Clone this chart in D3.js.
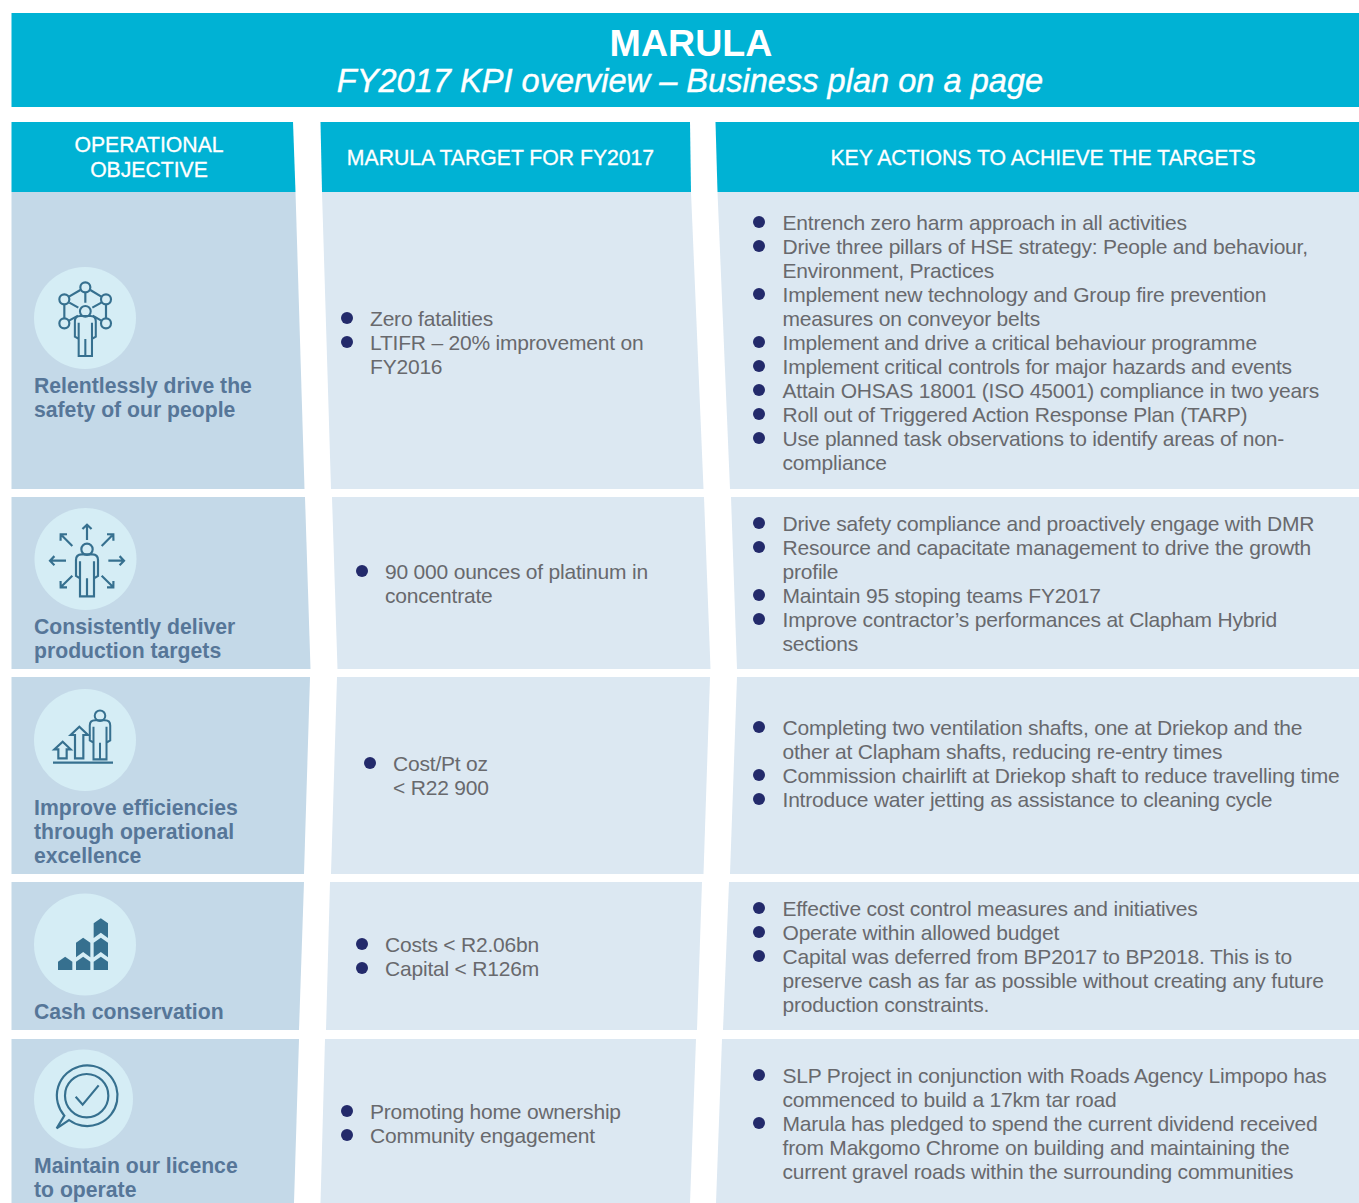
<!doctype html>
<html>
<head>
<meta charset="utf-8">
<style>
  html, body { margin: 0; padding: 0; background: #fff; }
  svg { display: block; }
  text { font-family: "Liberation Sans", Arial, sans-serif; }
  .body { font-size: 21px; letter-spacing: -0.2px; fill: #68696d; }
  .objective { font-weight: 700; font-size: 21.2px; fill: #567698; }
  .head { font-size: 21.2px; fill: #fff; stroke: #fff; stroke-width: 0.3; text-anchor: middle; }
  .stroke { fill: none; stroke: #36708f; stroke-width: 6.5; }
</style>
<script src="https://d3js.org/d3.v7.min.js"></script>
</head>
<body>
<svg width="1359" height="1203"></svg>
<script>
var title = "MARULA",
    subtitle = "FY2017 KPI overview – Business plan on a page";

var headers = [
    ["OPERATIONAL", "OBJECTIVE"],
    ["MARULA TARGET FOR FY2017"],
    ["KEY ACTIONS TO ACHIEVE THE TARGETS"]
];

var objectives = [
    ["Relentlessly drive the", "safety of our people"],
    ["Consistently deliver", "production targets"],
    ["Improve efficiencies", "through operational", "excellence"],
    ["Cash conservation"],
    ["Maintain our licence", "to operate"]
];

var targets = [
    [["Zero fatalities"], ["LTIFR – 20% improvement on", "FY2016"]],
    [["90 000 ounces of platinum in", "concentrate"]],
    [["Cost/Pt oz", "< R22 900"]],
    [["Costs < R2.06bn"], ["Capital < R126m"]],
    [["Promoting home ownership"], ["Community engagement"]]
];

var actions = [
    [["Entrench zero harm approach in all activities"],
     ["Drive three pillars of HSE strategy: People and behaviour,", "Environment, Practices"],
     ["Implement new technology and Group fire prevention", "measures on conveyor belts"],
     ["Implement and drive a critical behaviour programme"],
     ["Implement critical controls for major hazards and events"],
     ["Attain OHSAS 18001 (ISO 45001) compliance in two years"],
     ["Roll out of Triggered Action Response Plan (TARP)"],
     ["Use planned task observations to identify areas of non-", "compliance"]],
    [["Drive safety compliance and proactively engage with DMR"],
     ["Resource and capacitate management to drive the growth", "profile"],
     ["Maintain 95 stoping teams FY2017"],
     ["Improve contractor’s performances at Clapham Hybrid", "sections"]],
    [["Completing two ventilation shafts, one at Driekop and the", "other at Clapham shafts, reducing re-entry times"],
     ["Commission chairlift at Driekop shaft to reduce travelling time"],
     ["Introduce water jetting as assistance to cleaning cycle"]],
    [["Effective cost control measures and initiatives"],
     ["Operate within allowed budget"],
     ["Capital was deferred from BP2017 to BP2018. This is to", "preserve cash as far as possible without creating any future", "production constraints."]],
    [["SLP Project in conjunction with Roads Agency Limpopo has", "commenced to build a 17km tar road"],
     ["Marula has pledged to spend the current dividend received", "from Makgomo Chrome on building and maintaining the", "current gravel roads within the surrounding communities"]]
];

// layout
var breaks = [122, 192, 489, 497, 669, 677, 874, 882, 1030, 1039, 1203];
var edge1 = d3.scaleLinear().domain(breaks).range([293, 295.5, 304.5, 305, 310.5, 310, 304, 304, 299, 299, 294]),
    edge2 = d3.scaleLinear().domain(breaks).range([320.5, 322, 331, 332, 337.5, 337, 331, 330, 326, 325, 320.5]),
    edge3 = d3.scaleLinear().domain(breaks).range([690, 691, 703.5, 704, 710.5, 710, 703.5, 702, 697, 696, 690]),
    edge4 = d3.scaleLinear().domain(breaks).range([715.5, 717.5, 730, 731, 737, 737, 730, 729, 723, 722, 716]);
var left = function() { return 11.5; },
    right = function() { return 1359; };
var columns = [[left, edge1], [edge2, edge3], [edge4, right]];

var rowTops = [192, 497, 677, 882, 1039],
    rowBottoms = [489, 669, 874, 1030, 1203];

var circleX = [85, 85.5, 85, 85, 83.5],
    circleY = [318, 559, 740, 944.5, 1099],
    circleR = [51, 51, 51, 51, 49.5];
var objectiveBase = [393, 634, 815, 1019, 1173];
var targetBase = [326, 579, 771, 952, 1119],
    targetBulletX = [347, 362, 370, 362, 347];
var actionBase = [230, 531, 735, 916, 1083];
var lineStep = 24;

var svg = d3.select("svg");
var polygon = d3.line();

function cell(g, pair, y0, y1, fill) {
    g.append("path")
     .attr("fill", fill)
     .attr("d", polygon([[pair[0](y0), y0], [pair[1](y0), y0], [pair[1](y1), y1], [pair[0](y1), y1]]) + "Z");
}

// banner
svg.append("rect").attr("x", 11.5).attr("y", 13).attr("width", 1347.5).attr("height", 94).attr("fill", "#00b2d4");
svg.append("text").attr("x", 691).attr("y", 55.5).attr("text-anchor", "middle")
   .attr("font-size", 37.6).attr("font-weight", 700).attr("fill", "#fff").text(title);
svg.append("text").attr("x", 690).attr("y", 92).attr("text-anchor", "middle")
   .attr("font-size", 32.6).attr("font-style", "italic").attr("fill", "#fff")
   .attr("stroke", "#fff").attr("stroke-width", 0.4).text(subtitle);

// header row
var headerX = [149, 500.5, 1043],
    headerBase = [152, 165, 165];
columns.forEach(function(pair) { cell(svg, pair, 122, 192, "#00b2d4"); });
headers.forEach(function(lines, i) {
    svg.selectAll(null).data(lines).enter().append("text")
       .attr("class", "head")
       .attr("x", headerX[i])
       .attr("y", function(d, k) { return headerBase[i] + k * 25; })
       .text(function(d) { return d; });
});

// cells
rowTops.forEach(function(top, i) {
    cell(svg, columns[0], top, rowBottoms[i], "#c4d9e8");
    cell(svg, columns[1], top, rowBottoms[i], "#dce8f2");
    cell(svg, columns[2], top, rowBottoms[i], "#dce8f2");
});

// objective column
svg.selectAll("circle.disc").data(objectives).enter().append("circle")
   .attr("class", "disc")
   .attr("cx", function(d, i) { return circleX[i]; })
   .attr("cy", function(d, i) { return circleY[i]; })
   .attr("r", function(d, i) { return circleR[i]; })
   .attr("fill", "#d5edf5");

objectives.forEach(function(lines, i) {
    svg.selectAll(null).data(lines).enter().append("text")
       .attr("class", "objective")
       .attr("x", 34)
       .attr("y", function(d, k) { return objectiveBase[i] + k * lineStep; })
       .text(function(d) { return d; });
});

// bulleted lists
function list(items, base, bulletX, textX) {
    var n = 0;
    items.forEach(function(lines) {
        svg.append("circle").attr("cx", bulletX).attr("cy", base + n * lineStep - 8).attr("r", 6).attr("fill", "#232a6b");
        lines.forEach(function(line) {
            svg.append("text").attr("class", "body").attr("x", textX).attr("y", base + n * lineStep).text(line);
            n++;
        });
    });
}
targets.forEach(function(items, i) { list(items, targetBase[i], targetBulletX[i], targetBulletX[i] + 23); });
actions.forEach(function(items, i) { list(items, actionBase[i], 759, 782.5); });

// icons, drawn at 3x in their own group
function iconGroup(dy) {
    return svg.append("g").attr("transform", "translate(0," + dy + ") scale(" + 1 / 3 + ")");
}
function person(g, x, y, s) {
    var p = g.append("g").attr("transform", "translate(" + x + "," + y + ") scale(" + s + ")");
    p.append("circle").attr("class", "stroke").attr("r", 17);
    p.append("path").attr("class", "stroke")
     .attr("d", "M-21 141V87L-33 80V32Q-33 15-16 15H16Q33 15 33 32V80L21 87V141ZM-21 36V87M21 36V87M0 87V141");
}
function arrow(g, x1, y1, x2, y2) {
    var a = Math.atan2(y2 - y1, x2 - x1), h = 19;
    g.append("path").attr("class", "stroke")
     .attr("d", "M" + x1 + " " + y1 + "L" + x2 + " " + y2 +
        "M" + (x2 - h * Math.cos(a - 0.8)) + " " + (y2 - h * Math.sin(a - 0.8)) +
        "L" + x2 + " " + y2 +
        "L" + (x2 - h * Math.cos(a + 0.8)) + " " + (y2 - h * Math.sin(a + 0.8)));
}

// safety
var g1 = iconGroup(110);
person(g1, 256, 604, 0.95);
[[256, 532], [193, 568], [318, 568], [193, 640], [318, 640]].forEach(function(c) {
    g1.append("circle").attr("class", "stroke").attr("cx", c[0]).attr("cy", c[1]).attr("r", 15);
});
g1.append("path").attr("class", "stroke")
  .attr("d", "M241 540L207 560M271 540L304 560M256 548V578M193 583V625M318 583V625M208 578L235 593M304 578L277 593M207 632L234 617M304 632L278 617");

// production
var g2 = iconGroup(490);
person(g2, 261, 178, 1);
arrow(g2, 261, 150, 261, 104);
arrow(g2, 305, 168, 340, 133);
arrow(g2, 325, 212, 372, 212);
arrow(g2, 305, 257, 340, 292);
arrow(g2, 217, 257, 182, 292);
arrow(g2, 198, 212, 150, 212);
arrow(g2, 217, 168, 182, 133);

// efficiencies
var g3 = iconGroup(490);
person(g3, 300, 677, 0.93);
g3.append("path").attr("class", "stroke").attr("d", "M175 805V778H163L188 755L212 778H200V805Z");
g3.append("path").attr("class", "stroke").attr("d", "M225 805V735H212L238 710L264 735H250V805Z");
g3.append("path").attr("class", "stroke").attr("d", "M159 818H339");

// cash
var g4 = iconGroup(870);
var houses = [[174, 260], [228, 260], [281, 260]],
    towers = [[228, 203], [281, 203], [281, 145]];
houses.forEach(function(h) {
    g4.append("path").attr("fill", "#36708f")
      .attr("d", "M" + h[0] + " " + (h[1] + 15) + "L" + (h[0] + 21.5) + " " + h[1] + "L" + (h[0] + 43) + " " + (h[1] + 15) + "V300H" + h[0] + "Z");
});
towers.forEach(function(h) {
    g4.append("path").attr("fill", "#36708f")
      .attr("d", "M" + h[0] + " " + (h[1] + 15) + "L" + (h[0] + 21.5) + " " + h[1] + "L" + (h[0] + 43) + " " + (h[1] + 15) +
         "V" + (h[1] + 59) + "L" + (h[0] + 21.5) + " " + (h[1] + 43) + "L" + h[0] + " " + (h[1] + 59) + "Z");
});

// licence
var g5 = iconGroup(870);
g5.append("path").attr("class", "stroke")
  .attr("d", "M193 737L170 775L207 750A91 91 0 1 0 193 737Z");
g5.append("circle").attr("class", "stroke").attr("cx", 260).attr("cy", 677).attr("r", 65);
g5.append("path").attr("class", "stroke").attr("d", "M227 680L248 704L296 646");
</script>
</body>
</html>
